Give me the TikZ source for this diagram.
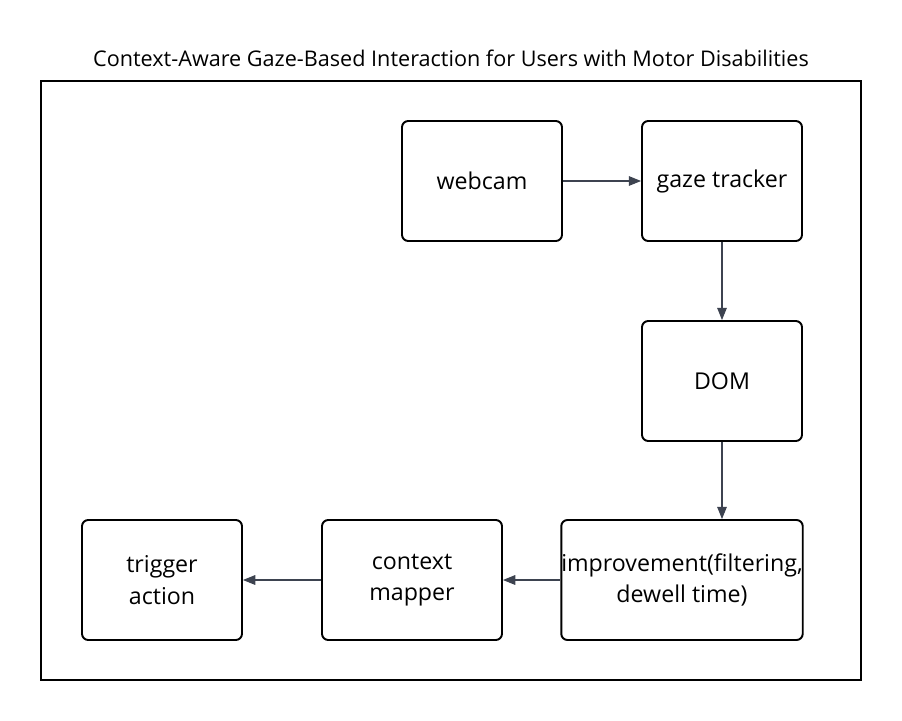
\documentclass[tikz,border=0pt]{standalone}
\usepackage{fontspec}
\setmainfont{Open Sans}
\usetikzlibrary{arrows.meta}
\definecolor{linkgray}{HTML}{3D4350}

\begin{document}
\begin{tikzpicture}[x=0.02cm, y=-0.02cm,
    box/.style={draw=black, line width=1.1pt, rounded corners=3.5pt,
      minimum width=3.2cm, minimum height=2.4cm, inner sep=1pt, align=center,
      font=\fontsize{13.2}{18}\selectfont},
    link/.style={draw=linkgray, line width=0.6pt, -{Triangle[length=7pt,width=5.5pt]}}]
    \useasboundingbox (0,0) rectangle (902,720);

    \node[font=\fontsize{12.3}{14}\selectfont] (title) at (451,58) {Context-Aware Gaze-Based Interaction for Users with Motor Disabilities};
    \draw[line width=1pt] (41,81) rectangle (861,680);

    \node[box] (webcam) at (482,181) {webcam};
    \node[box] (gaze) at (722,181) {gaze tracker};
    \node[box] (dom) at (722,381) {DOM};
    \node[box, minimum width=4.8cm, inner sep=0pt] (improve) at (682,580) {improvement(filtering,\\dewell time)};
    \node[box, minimum width=3.6cm] (mapper) at (412,580) {context\\mapper};
    \node[box] (trigger) at (162,580) {trigger\\action};

    \draw[link] (webcam) -- (gaze);
    \draw[link] (gaze) -- (dom);
    \draw[link] (dom.south) -- (dom.south |- improve.north);
    \draw[link] (improve) -- (mapper);
    \draw[link] (mapper) -- (trigger);
\end{tikzpicture}
\end{document}
